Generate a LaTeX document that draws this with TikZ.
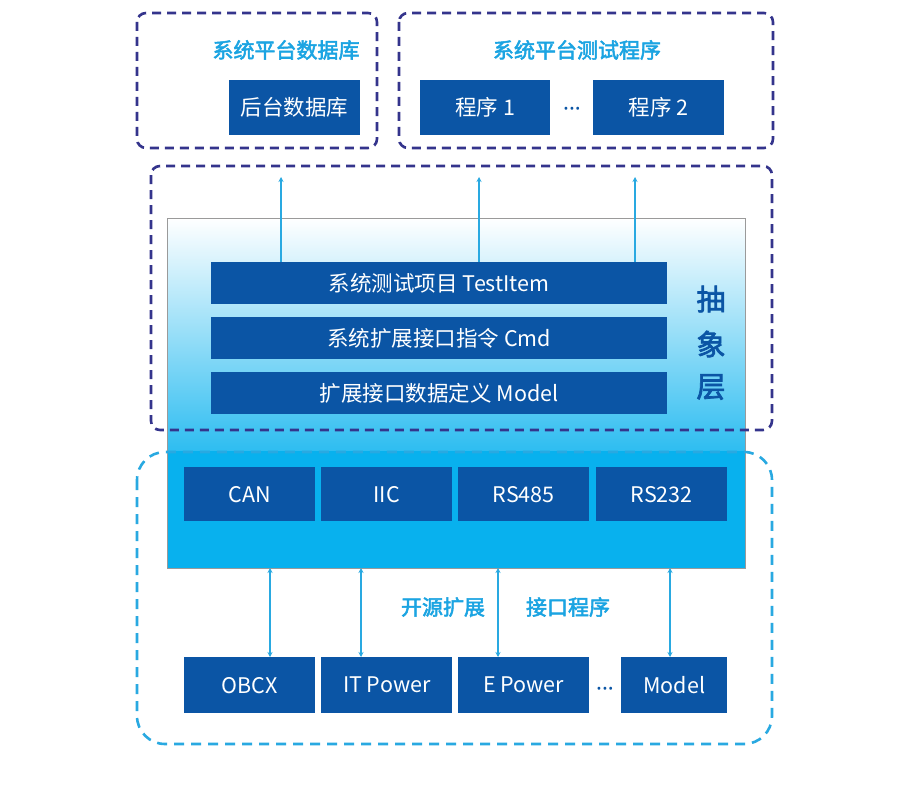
\documentclass[tikz,border=0pt]{standalone}
\usepackage{fontspec}
\setmainfont{Noto Sans CJK SC}
\newfontfamily\cjkb[FakeBold=2.5]{Noto Sans CJK SC}
\newfontfamily\dotfont{Noto Sans}
\usetikzlibrary{arrows.meta}
\definecolor{boxblue}{HTML}{0B55A5}
\definecolor{darkdash}{HTML}{34348C}
\definecolor{cyandash}{HTML}{29A9E1}
\definecolor{titlecyan}{HTML}{1BA4E2}
\definecolor{layercyan}{HTML}{08B1EE}
\definecolor{rimgray}{HTML}{9A9A9A}
\tikzset{
  bluebox/.style={fill=boxblue, draw=none, text=white, font=\fontsize{21.5}{24}\selectfont, inner sep=0pt, anchor=north west},
  darkframe/.style={draw=darkdash, line width=2.6pt, dash pattern=on 9pt off 6pt, rounded corners=9pt},
  cyanframe/.style={draw=cyandash, line width=2.6pt, dash pattern=on 10pt off 7pt, rounded corners=28pt},
  titletext/.style={text=titlecyan, font=\cjkb\fontsize{21}{24}\selectfont},
  layertext/.style={text=boxblue, font=\cjkb\fontsize{29}{32}\selectfont, inner sep=0pt},
  conn/.style={draw=cyandash, line width=1.8pt, -{Stealth[length=5pt,width=5pt]}},
  dconn/.style={draw=cyandash, line width=1.8pt, {Stealth[length=5pt,width=5pt]}-{Stealth[length=5pt,width=5pt]}},
  dots/.style={text=boxblue, font=\dotfont\bfseries\fontsize{22}{24}\selectfont, inner sep=0pt},
}
\begin{document}
\begin{tikzpicture}[x=1pt,y=-1pt]
\useasboundingbox[fill=white] (0,0) rectangle (907,797);

% abstraction layer background
\shade[top color=white, bottom color=layercyan!85] (167,218) rectangle (745,452);
\fill[layercyan] (167,451) rectangle (745,568);
\draw[rimgray, line width=1pt] (167,218) rectangle (745,568);

% top frames
\draw[darkframe] (137,13) rectangle (377,148);
\draw[darkframe] (399,13) rectangle (773,148);
\node[titletext] (t1) at (286,50) {系统平台数据库};
\node[titletext] (t2) at (577,50) {系统平台测试程序};
\node[bluebox, minimum width=131pt, minimum height=55pt] (db) at (229,80) {后台数据库};
\node[bluebox, minimum width=130pt, minimum height=55pt] (p1) at (420,80) {程序 1};
\node[dots] (d1) at (572,112) {···};
\node[bluebox, minimum width=131pt, minimum height=55pt] (p2) at (593,80) {程序 2};

% abstraction bars
\node[bluebox, minimum width=456pt, minimum height=42pt] (ti) at (211,262) {系统测试项目 TestItem};
\node[bluebox, minimum width=456pt, minimum height=42pt] (cmd) at (211,317) {系统扩展接口指令 Cmd};
\node[bluebox, minimum width=456pt, minimum height=42pt] (mdl) at (211,372) {扩展接口数据定义 Model};
\node[layertext] (c1) at (711,299) {抽};
\node[layertext] (c2) at (711,344) {象};
\node[layertext] (c3) at (711,387) {层};

% up arrows
\coordinate (u1) at (281,177);
\coordinate (u2) at (479,177);
\coordinate (u3) at (635,177);
\draw[conn] (ti.north -| u1) -- (u1);
\draw[conn] (ti.north -| u2) -- (u2);
\draw[conn] (ti.north -| u3) -- (u3);

% middle dark frame
\draw[darkframe] (151,166) rectangle (772,430);

% interface boxes
\node[bluebox, minimum width=131pt, minimum height=54pt] (can) at (184,467) {CAN};
\node[bluebox, minimum width=131pt, minimum height=54pt] (iic) at (321,467) {IIC};
\node[bluebox, minimum width=131pt, minimum height=54pt] (rs485) at (458,467) {RS485};
\node[bluebox, minimum width=131pt, minimum height=54pt] (rs232) at (596,467) {RS232};

% device boxes
\node[bluebox, minimum width=131pt, minimum height=56pt] (obcx) at (184,657) {OBCX};
\node[bluebox, minimum width=131pt, minimum height=56pt] (itp) at (321,657) {IT Power};
\node[bluebox, minimum width=131pt, minimum height=56pt] (ep) at (458,657) {E Power};
\node[dots] (d2) at (605,692) {···};
\node[bluebox, minimum width=106pt, minimum height=56pt] (model) at (621,657) {Model};

% double arrows
\coordinate (a1) at (270,568);
\coordinate (a2) at (361,568);
\coordinate (a3) at (498,568);
\coordinate (a4) at (670,568);
\draw[dconn] (a1) -- (obcx.north -| a1);
\draw[dconn] (a2) -- (itp.north -| a2);
\draw[dconn] (a3) -- (ep.north -| a3);
\draw[dconn] (a4) -- (model.north -| a4);

\node[titletext] (l1) at (443,607) {开源扩展};
\node[titletext] (l2) at (568,607) {接口程序};

% lower cyan frame
\draw[cyanframe] (137,452) rectangle (772,744);
\end{tikzpicture}
\end{document}
